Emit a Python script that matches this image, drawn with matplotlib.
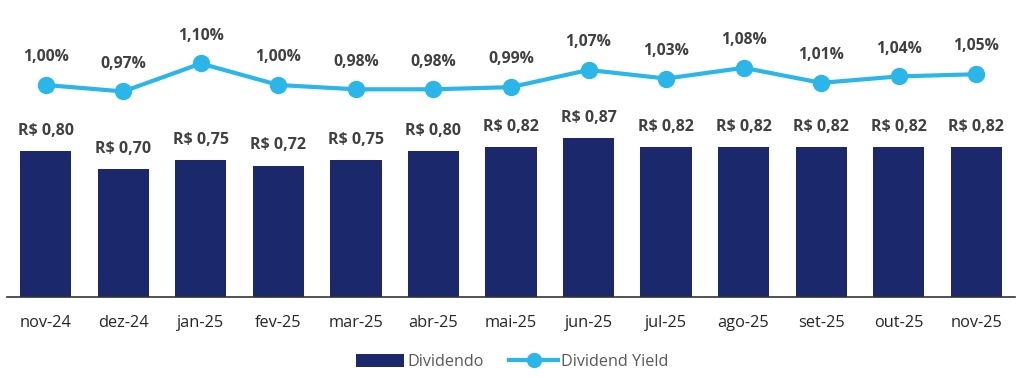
import matplotlib
matplotlib.use("Agg")
import matplotlib.pyplot as plt
from matplotlib.lines import Line2D
from matplotlib.patches import Patch

plt.rcParams['font.family'] = ['Open Sans', 'DejaVu Sans']

months = ["nov-24", "dez-24", "jan-25", "fev-25", "mar-25", "abr-25", "mai-25",
          "jun-25", "jul-25", "ago-25", "set-25", "out-25", "nov-25"]
dividendo = [0.80, 0.70, 0.75, 0.72, 0.75, 0.80, 0.82, 0.87, 0.82, 0.82, 0.82, 0.82, 0.82]
dividend_yield = [1.00, 0.97, 1.10, 1.00, 0.98, 0.98, 0.99, 1.07, 1.03, 1.08, 1.01, 1.04, 1.05]

bar_color = "#1B286B"
line_color = "#2BB6EA"
label_color = "#404040"

fig = plt.figure(figsize=(10.24, 3.78), dpi=100)
ax = fig.add_axes([7/1024, (378-297)/378, (1015-7)/1024, 287/378])
x = list(range(len(months)))
ax.bar(x, dividendo, width=0.66, color=bar_color, zorder=2)
ax.set_xlim(-0.5, len(months) - 0.5)
ax.set_ylim(0, 287/182.5)
for xi, v in zip(x, dividendo):
    ax.annotate(f"R$ {v:.2f}".replace(".", ","), (xi, v), xytext=(0, 14.5),
                textcoords="offset points", ha="center", va="center",
                fontsize=11.5, fontweight="bold", color=label_color)
ax.set_xticks(x)
ax.set_xticklabels(months, fontsize=11.8, color="#262626")
ax.tick_params(axis="x", length=0, pad=13)
ax.set_yticks([])
for s in ["top", "right", "left"]:
    ax.spines[s].set_visible(False)
ax.spines["bottom"].set_color("#333333")
ax.spines["bottom"].set_linewidth(1.2)

ax2 = ax.twinx()
ax2.set_ylim(1.00 - 212/215, 1.00 + 75/215)
ax2.plot(x, dividend_yield, color=line_color, lw=3, marker="o", markersize=11.5, zorder=3)
for xi, v in zip(x, dividend_yield):
    ax2.annotate(f"{v:.2f}%".replace(".", ","), (xi, v), xytext=(0, 20),
                 textcoords="offset points", ha="center", va="center",
                 fontsize=11.3, fontweight="bold", color=label_color)
ax2.set_yticks([])
for s in ax2.spines.values():
    s.set_visible(False)

handles = [Patch(facecolor=bar_color, edgecolor="none"),
           Line2D([], [], color=line_color, lw=3, marker="o", markersize=10)]
fig.legend(handles, ["Dividendo", "Dividend Yield"], loc="center",
           bbox_to_anchor=(0.5, 1 - 362/378), ncol=2, frameon=False,
           fontsize=11.6, labelcolor="#595959", handlelength=3.0,
           handleheight=0.9, handletextpad=0.2, columnspacing=1.6)

fig.savefig("out.png", dpi=100)
